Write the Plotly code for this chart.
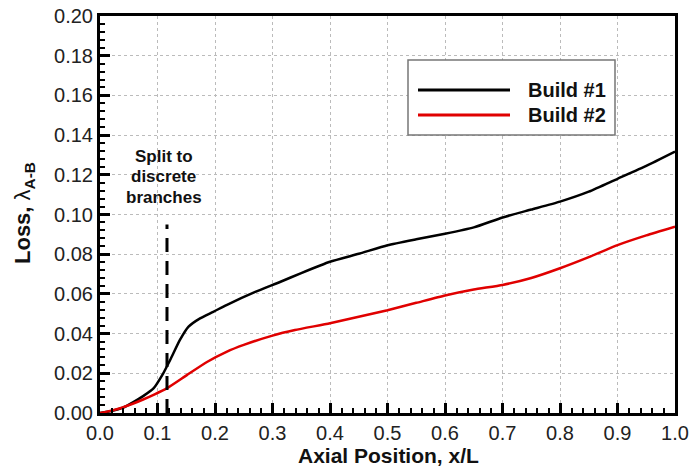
import plotly.graph_objects as go

# Build #1 (black)
x1 = [0.0, 0.02, 0.04, 0.058, 0.075, 0.093, 0.11, 0.122, 0.139, 0.154, 0.174, 0.197, 0.22,
      0.27, 0.313, 0.35, 0.4, 0.45, 0.5, 0.55, 0.6, 0.65, 0.7, 0.75, 0.8, 0.85, 0.9, 0.95, 1.0]
y1 = [0.0, 0.001, 0.0027, 0.0055, 0.0085, 0.0124, 0.020, 0.0267, 0.0368, 0.0435, 0.0477, 0.051, 0.0544,
      0.061, 0.066, 0.0705, 0.0762, 0.0802, 0.0845, 0.0875, 0.0903, 0.0935, 0.0985, 0.1025, 0.1065,
      0.1115, 0.1180, 0.1245, 0.1317]
# Build #2 (red)
x2 = [0.0, 0.02, 0.035, 0.058, 0.075, 0.095, 0.116, 0.151, 0.186, 0.22, 0.25, 0.3, 0.339, 0.4,
      0.45, 0.5, 0.55, 0.6, 0.65, 0.7, 0.75, 0.8, 0.85, 0.9, 0.95, 1.0]
y2 = [0.0, 0.0012, 0.0024, 0.0048, 0.0068, 0.0094, 0.0124, 0.0191, 0.0257, 0.0308, 0.0343, 0.039,
      0.0418, 0.0452, 0.0485, 0.0518, 0.0555, 0.0592, 0.0622, 0.0645, 0.068, 0.0729, 0.0785, 0.0846,
      0.0895, 0.0939]

series_names = ["Build #1", "Build #2"]
series_colors = ["#000000", "#e00000"]

split_x = 0.1165
split_top = 0.095
split_label = ["Split to", "discrete", "branches"]
split_label_y = [0.129, 0.119, 0.1088]

x_ticks = [0.0, 0.1, 0.2, 0.3, 0.4, 0.5, 0.6, 0.7, 0.8, 0.9, 1.0]
y_ticks = [0.00, 0.02, 0.04, 0.06, 0.08, 0.10, 0.12, 0.14, 0.16, 0.18, 0.20]

FONT = "Liberation Sans, Arial"

fig = go.Figure()
for xs, ys, nm, col in [(x1, y1, series_names[0], series_colors[0]),
                        (x2, y2, series_names[1], series_colors[1])]:
    fig.add_trace(go.Scatter(x=xs, y=ys, mode="lines", name=nm,
                             line=dict(color=col, width=2.5, shape="spline", smoothing=0.5),
                             showlegend=False))

# dashed split line
fig.add_trace(go.Scatter(x=[split_x, split_x], y=[0, split_top], mode="lines",
                         line=dict(color="black", width=3, dash="14px,9px"), showlegend=False))

for t, yy in zip(split_label, split_label_y):
    fig.add_annotation(x=0.111, y=yy, text="<b>" + t + "</b>", showarrow=False,
                       font=dict(family=FONT, size=17, color="#111"),
                       xanchor="center", yanchor="middle")

# layout geometry (pixels) used for paper-coordinate placement of legend and titles
W, H = 693, 467
L, R, T, B = 100, 18, 16, 54
pw, ph = W - L - R, H - T - B
def px(xp):
    return (xp - L) / pw
def py(yp):
    return (H - B - yp) / ph

# manual legend
fig.add_shape(type="rect", xref="paper", yref="paper",
              x0=px(408), x1=px(615), y0=py(135), y1=py(60),
              line=dict(color="#777", width=1.5), fillcolor="white", layer="above")
for i, (nm, col) in enumerate(zip(series_names, series_colors)):
    yy = [90, 115][i]
    fig.add_shape(type="line", xref="paper", yref="paper",
                  x0=px(418), x1=px(510), y0=py(yy), y1=py(yy),
                  line=dict(color=col, width=3), layer="above")
    fig.add_annotation(xref="paper", yref="paper", x=px(526), y=py(yy), text="<b>" + nm + "</b>",
                       showarrow=False, xanchor="left", yanchor="middle",
                       font=dict(family=FONT, size=20, color="#111"))

# axis titles
fig.add_annotation(xref="paper", yref="paper", x=px(388), y=py(455),
                   text="<b>Axial Position, x/L</b>", showarrow=False,
                   xanchor="center", yanchor="middle",
                   font=dict(family=FONT, size=21, color="#111"))
fig.add_annotation(xref="paper", yref="paper", x=px(24), y=py(213),
                   text="<b>Loss, </b>λ<sub><b>A-B</b></sub>", showarrow=False,
                   textangle=-90, xanchor="center", yanchor="middle",
                   font=dict(family=FONT, size=22, color="#111"))

axis_common = dict(
    showline=True, linecolor="black", linewidth=3, mirror=True,
    ticks="inside", ticklen=10, tickwidth=3, tickcolor="black",
    showgrid=True, gridcolor="#bbbbbb", gridwidth=1, griddash="dot",
    zeroline=False, automargin=False,
    tickfont=dict(family=FONT, size=20, color="#222"),
)

fig.update_xaxes(range=[0, 1.0], tickvals=x_ticks, ticktext=[f"{v:.1f}" for v in x_ticks],
                 minor=dict(dtick=0.02, tick0=0, ticks="inside", ticklen=5, tickwidth=1.5,
                            tickcolor="black", showgrid=False),
                 **axis_common)
fig.update_yaxes(range=[0, 0.20], tickvals=y_ticks, ticktext=[f"{v:.2f}" for v in y_ticks],
                 minor=dict(dtick=0.004, tick0=0, ticks="inside", ticklen=5, tickwidth=1.5,
                            tickcolor="black", showgrid=False),
                 **axis_common)

fig.update_layout(width=W, height=H, margin=dict(l=L, r=R, t=T, b=B, autoexpand=False),
                  paper_bgcolor="white", plot_bgcolor="white", showlegend=False)

fig.write_html("out.html")
